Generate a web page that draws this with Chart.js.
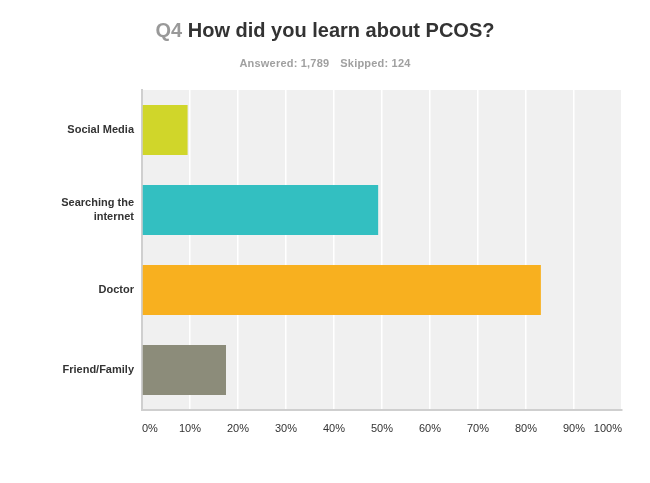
<!DOCTYPE html>
<html>
<head>
<meta charset="utf-8">
<script src="https://cdn.jsdelivr.net/npm/chart.js@4/dist/chart.umd.min.js"></script>
<style>
  html, body { margin: 0; padding: 0; background: #fff; }
  #wrap { position: relative; width: 650px; height: 483px; }
  #title {
    position: absolute; left: 0; top: 19px; width: 650px; text-align: center;
    font: bold 20px "Liberation Sans", Arial, sans-serif; color: #333;
  }
  #title .q { color: #999; }
  #sub {
    position: absolute; left: 0; top: 57px; width: 650px; text-align: center;
    font: bold 11px "Liberation Sans", Arial, sans-serif; color: #a0a0a0;
    letter-spacing: 0.2px;
  }
  #sub span + span { margin-left: 11px; }
  canvas { position: absolute; left: 0; top: 0; }
</style>
</head>
<body>
<div id="wrap">
  <canvas id="chart" width="650" height="483"></canvas>
  <div id="title"><span class="q">Q4</span> How did you learn about PCOS?</div>
  <div id="sub"><span>Answered: 1,789</span><span>Skipped: 124</span></div>
</div>
<script>
  /* ─── Data ─── */
  const categories = ["Social Media", ["Searching the", "internet"], "Doctor", "Friend/Family"];
  const percentages = [9.5, 49.2, 83.1, 17.5];
  const barColors = ["#d0d62a", "#33bfc1", "#f8b01f", "#8c8c7a"];
  const tickValues = [0, 10, 20, 30, 40, 50, 60, 70, 80, 90, 100];

  /* ─── Plot background ─── */
  const plotBg = {
    id: "plotBg",
    beforeDraw: (chart) => {
      const a = chart.chartArea;
      const ctx = chart.ctx;
      ctx.save();
      ctx.fillStyle = "#f0f0f0";
      ctx.fillRect(a.left, a.top, a.right - a.left, a.bottom - a.top);
      ctx.restore();
    },
  };

  new Chart(document.getElementById("chart").getContext("2d"), {
    type: "bar",
    data: {
      labels: categories,
      datasets: [{
        data: percentages,
        backgroundColor: barColors,
        borderWidth: 0,
        categoryPercentage: 1,
        barPercentage: 0.625,
      }],
    },
    options: {
      indexAxis: "y",
      responsive: false,
      animation: false,
      layout: { padding: { left: 0, top: 90, right: 28, bottom: 43 } },
      plugins: {
        legend: { display: false },
        tooltip: { enabled: false },
      },
      scales: {
        x: {
          min: 0,
          max: 100,
          afterBuildTicks: (s) => { s.ticks = tickValues.map((v) => ({ value: v })); },
          afterFit: (s) => { s.height = 30; },
          ticks: {
            align: "inner",
            padding: 12,
            color: "#333",
            font: { family: "'Liberation Sans', Arial, sans-serif", size: 11 },
            callback: (v) => `${v}%`,
          },
          grid: { color: "#ffffff", lineWidth: 1.5, drawTicks: false },
          border: { color: "#cfcfcf", width: 2 },
        },
        y: {
          afterFit: (s) => { s.width = 142; },
          ticks: {
            padding: 8,
            color: "#333",
            font: { family: "'Liberation Sans', Arial, sans-serif", size: 11, weight: "bold", lineHeight: 1.2 },
          },
          grid: { display: false, drawTicks: false },
          border: { color: "#cfcfcf", width: 2 },
        },
      },
    },
    plugins: [plotBg],
  });
</script>
</body>
</html>
